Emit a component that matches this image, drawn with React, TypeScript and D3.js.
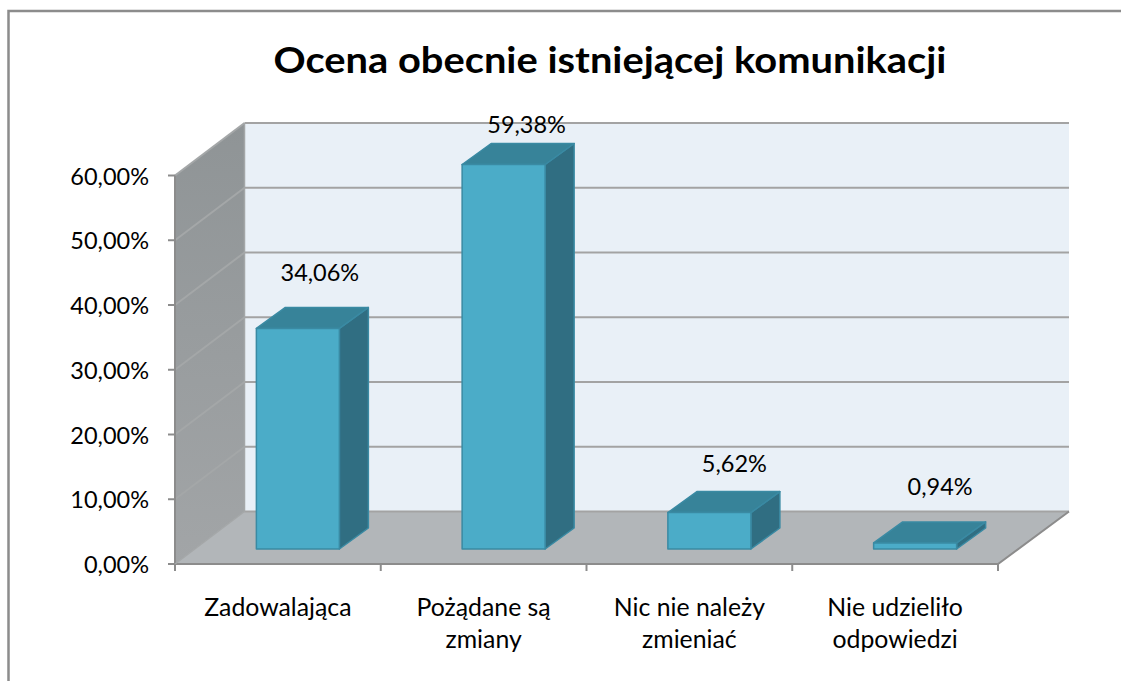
import React from 'react';
import * as d3 from 'd3';

const title = 'Ocena obecnie istniejącej komunikacji';
const categories = ['Zadowalająca', 'Pożądane są zmiany', 'Nic nie należy zmieniać', 'Nie udzieliło odpowiedzi'];
const categoryLines = [['Zadowalająca'], ['Pożądane są', 'zmiany'], ['Nic nie należy', 'zmieniać'], ['Nie udzieliło', 'odpowiedzi']];
const values = [34.06, 59.38, 5.62, 0.94];
const valueLabels = ['34,06%', '59,38%', '5,62%', '0,94%'];
const yTicks = [0, 10, 20, 30, 40, 50, 60];

// layout of the fake 3d box
const depthX = 69.5, depthY = -52.5;
const rightDepthX = 71;
const barDepthX = 29, barDepthY = -21;
const barFloorX = 20, barFloorY = -15;
const barWidth = 83;
const labelLift = [34, 19, 28, 35];
const labelShift = [42, 43, 45, 45];

const font = 'Lato, "Open Sans", sans-serif';

const y = d3.scaleLinear().domain([0, 60]).range([564, 175.5]);
const x = d3.scaleBand().domain(categories).range([175, 998]);
const line = d3.line();

const poly = (pts: [number, number][]) => line(pts) + 'Z';

export default function App() {
  const x0 = x.range()[0], x1 = x.range()[1];
  const y0 = y(0), yTop = y(60);
  const ticksX = [...categories.map(c => x(c) as number), x1];
  return (
    <svg width={1121} height={681} style={{ position: 'absolute', left: 0, top: 0, background: '#fff', fontFamily: font }}>
      <defs>
        <linearGradient id="wall" x1="0" x2="0" y1="0" y2="1">
          <stop offset="0" stopColor="#8f9496" />
          <stop offset="1" stopColor="#a2a5a7" />
        </linearGradient>
      </defs>
      {/* outer frame */}
      <path d="M8.5,681V11H1121" fill="none" stroke="#8c8c8c" strokeWidth={2.5} />

      <text x={610} y={73} textAnchor="middle" fontSize={36} fontWeight={700} fill="#000" textLength={673} lengthAdjust="spacingAndGlyphs">{title}</text>

      {/* back wall, side wall, floor */}
      <rect x={x0 + depthX} y={yTop + depthY} width={x1 + rightDepthX - x0 - depthX} height={y0 - yTop} fill="#e9f0f7" />
      <path d={poly([[x0, y0], [x0, yTop], [x0 + depthX, yTop + depthY], [x0 + depthX, y0 + depthY]])} fill="url(#wall)" />
      <path d={poly([[x0, y0], [x1, y0], [x1 + rightDepthX, y0 + depthY], [x0 + depthX, y0 + depthY]])} fill="#b2b6b9" />

      {yTicks.map(t => (
        <g key={t}>
          {t > 0 && <path d={`M${x0},${y(t)}L${x0 + depthX},${y(t) + depthY}`} stroke="#a4a7a8" strokeWidth={2} fill="none" />}
          <path d={`M${x0 + depthX},${y(t) + depthY}H${x1 + rightDepthX}`} stroke="#a3a3a3" strokeWidth={2} fill="none" />
          <path d={`M${x0 - 7},${y(t)}H${x0}`} stroke="#8c8c8c" strokeWidth={2} fill="none" />
          <text x={149} y={y(t) + 9} textAnchor="end" fontSize={23.5} fill="#000">{d3.format('.2f')(t).replace('.', ',')}%</text>
        </g>
      ))}

      {/* axis lines */}
      <path d={`M${x0},${yTop}V${y0}H${x1}L${x1 + rightDepthX},${y0 + depthY}`} fill="none" stroke="#8c8c8c" strokeWidth={2} />
      <path d={`M${x0 + depthX},${yTop + depthY}V${y0 + depthY}L${x0},${y0}`} fill="none" stroke="#a4a7a8" strokeWidth={1.5} />
      {ticksX.map(t => <path key={t} d={`M${t},${y0}v7`} stroke="#8c8c8c" strokeWidth={2} fill="none" />)}

      {categories.map((c, i) => {
        const cx = (x(c) as number) + x.bandwidth() / 2;
        const left = cx + barFloorX - barWidth / 2;
        const right = left + barWidth;
        const bottom = y0 + barFloorY;
        const top = y(values[i]) + barFloorY;
        return (
          <g key={c} stroke="#3a8aa3" strokeWidth={1.5} strokeLinejoin="round">
            <path d={poly([[right, bottom], [right, top], [right + barDepthX, top + barDepthY], [right + barDepthX, bottom + barDepthY]])} fill="#306e82" />
            <path d={poly([[left, top], [right, top], [right + barDepthX, top + barDepthY], [left + barDepthX, top + barDepthY]])} fill="#378399" />
            <rect x={left} y={top} width={barWidth} height={bottom - top} fill="#4bacc8" />
            <text x={cx + labelShift[i]} y={top + barDepthY - labelLift[i] + 8} textAnchor="middle" fontSize={23.5} fill="#000" stroke="none">{valueLabels[i]}</text>
          </g>
        );
      })}

      {categories.map((c, i) => (
        <text key={c} textAnchor="middle" fontSize={24.8} fill="#000">
          {categoryLines[i].map((l, j) => (
            <tspan key={l} x={(x(c) as number) + x.bandwidth() / 2} y={616 + j * 32}>{l}</tspan>
          ))}
        </text>
      ))}
    </svg>
  );
}
